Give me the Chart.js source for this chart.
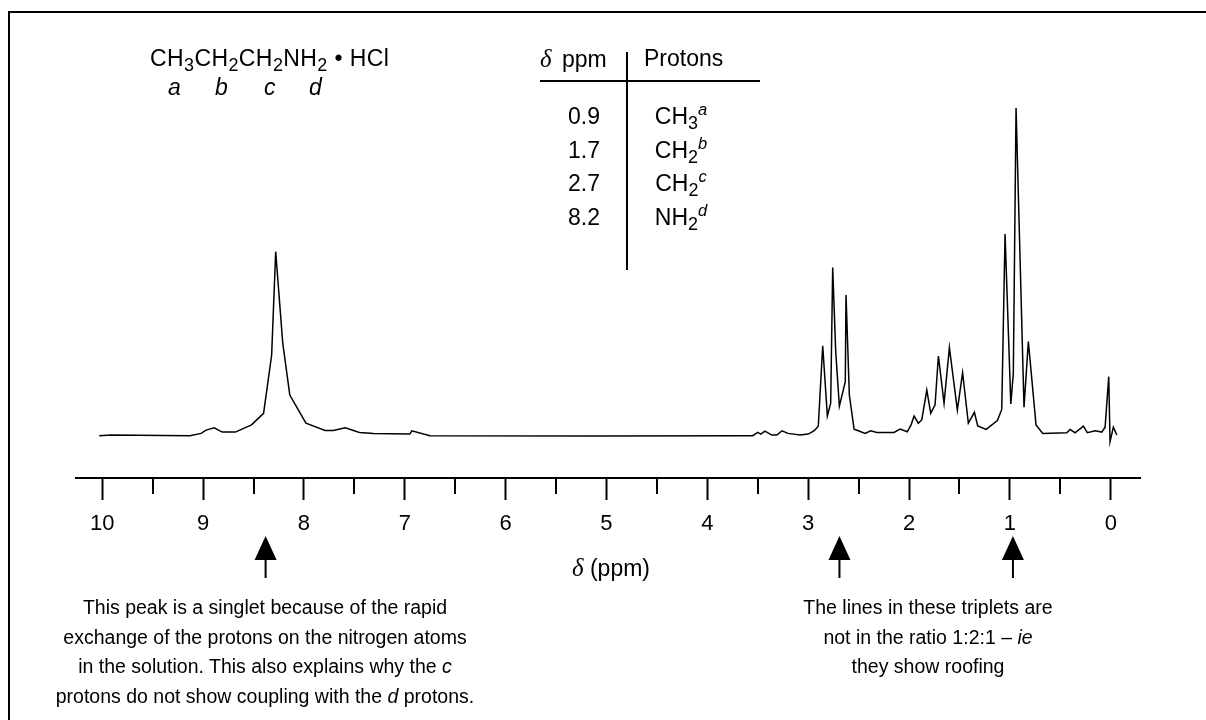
<!DOCTYPE html>
<html>
<head>
<meta charset="utf-8">
<script src="https://cdn.jsdelivr.net/npm/chart.js@4.4.1/dist/chart.umd.min.js"></script>
<style>
  body { margin: 0; background: #fff; }
  #wrap { position: relative; width: 1206px; height: 720px; overflow: hidden; font-family: "Liberation Sans", Arial, sans-serif; color: #000; }
  #chart { position: absolute; left: 0; top: 0; }
  .frame { position: absolute; left: 8px; top: 11px; width: 1300px; height: 800px; border-top: 2px solid #000; border-left: 2px solid #000; }
  .t { position: absolute; white-space: nowrap; font-size: 23px; line-height: 23px; }
  .t sub { font-size: 0.78em; vertical-align: -0.3em; line-height: 0; }
  .t sup { font-size: 0.72em; vertical-align: 0.55em; line-height: 0; font-style: italic; }
  .note { position: absolute; width: 600px; text-align: center; font-size: 19.5px; line-height: 29.7px; white-space: nowrap; }
  .hl { position: absolute; background: #000; }
  .greek { font-family: "Liberation Serif", "DejaVu Serif", serif; font-style: italic; font-size: 1.08em; }
</style>
</head>
<body>
<div id="wrap">
  <canvas id="chart" width="1206" height="720"></canvas>
  <div class="frame"></div>

  <div class="t" style="left:150px; top:47px; letter-spacing:0.4px;">CH<sub>3</sub>CH<sub>2</sub>CH<sub>2</sub>NH<sub>2</sub> &bull; HCl</div>
  <div class="t" style="left:168px; top:76px; font-style:italic;">a</div>
  <div class="t" style="left:215px; top:76px; font-style:italic;">b</div>
  <div class="t" style="left:264px; top:76px; font-style:italic;">c</div>
  <div class="t" style="left:309px; top:76px; font-style:italic;">d</div>

  <div class="t" style="left:540px; top:47px; word-spacing:4px;"><span class="greek">δ</span> ppm</div>
  <div class="t" style="left:644px; top:47px;">Protons</div>
  <div class="hl" style="left:540px; top:80px; width:220px; height:1.5px;"></div>
  <div class="hl" style="left:626px; top:52px; width:1.5px; height:218px;"></div>
  <div id="rows"></div>

  <div class="t" style="left:572px; top:556px;"><span class="greek">δ</span> (ppm)</div>

  <div class="note" style="left:-35px; top:593px;">This peak is a singlet because of the rapid<br>exchange of the protons on the nitrogen atoms<br>in the solution. This also explains why the <i>c</i><br>protons do not show coupling with the <i>d</i> protons.</div>
  <div class="note" style="left:628px; top:593px;">The lines in these triplets are<br>not in the ratio 1:2:1 &ndash; <i>ie</i><br>they show roofing</div>
</div>
<script>
// chemical shift (ppm) and relative intensity
const shifts = [10.03, 9.91, 9.13, 9.02, 8.97, 8.89, 8.81, 8.68, 8.52, 8.40, 8.32, 8.28, 8.21, 8.14, 7.98, 7.79,
  7.71, 7.59, 7.45, 7.31, 6.95, 6.93, 6.75, 5.07, 3.68, 3.55, 3.50, 3.47, 3.43, 3.36, 3.31, 3.26, 3.20, 3.08,
  3.00, 2.94, 2.90, 2.856, 2.81, 2.777, 2.757, 2.727, 2.691, 2.632, 2.625, 2.592, 2.545, 2.503, 2.436, 2.38,
  2.32, 2.149, 2.089, 2.017, 1.98, 1.95, 1.908, 1.874, 1.824, 1.785, 1.742, 1.709, 1.653, 1.60, 1.521, 1.469,
  1.412, 1.352, 1.319, 1.236, 1.124, 1.081, 1.048, 0.991, 0.966, 0.939, 0.86, 0.817, 0.741, 0.674, 0.436,
  0.403, 0.354, 0.271, 0.232, 0.155, 0.089, 0.056, 0.020, 0.007, -0.026, -0.060];
const intensity = [0.1, 0.3, 0.1, 0.8, 1.8, 2.5, 1.2, 1.2, 3.4, 6.9, 24.7, 56.2, 28.3, 12.5, 3.9, 1.7,
  1.7, 2.5, 1.1, 0.8, 0.6, 1.6, 0.1, 0, 0.1, 0.1, 1.1, 0.6, 1.5, 0.3, 0.3, 1.6, 0.8, 0.3,
  0.6, 1.6, 3.0, 27.5, 6.1, 10.0, 51.4, 25.7, 9.1, 16.6, 43.0, 12.5, 2.1, 1.6, 0.8, 1.6,
  1.1, 1.1, 2.1, 1.3, 3.4, 6.1, 3.9, 4.9, 14.0, 6.9, 9.5, 24.4, 10.0, 27.0, 7.9, 19.3,
  3.9, 7.2, 3.1, 2.0, 4.7, 8.1, 61.6, 9.8, 19.1, 100, 8.8, 28.8, 3.4, 0.8, 1.0,
  2.0, 1.0, 3.0, 1.0, 1.6, 1.2, 2.7, 18.1, -1.7, 2.7, 0.3];

const majorTicks = [0, 1, 2, 3, 4, 5, 6, 7, 8, 9, 10];
const minorTicks = [0.5, 1.5, 2.5, 3.5, 4.5, 5.5, 6.5, 7.5, 8.5, 9.5];
const arrowShifts = [8.38, 2.69, 0.97];

const tableShift = ['0.9', '1.7', '2.7', '8.2'];
const tableGroup = ['CH<sub>3</sub><sup>a</sup>', 'CH<sub>2</sub><sup>b</sup>', 'CH<sub>2</sub><sup>c</sup>', 'NH<sub>2</sub><sup>d</sup>'];

// table rows
const rows = document.getElementById('rows');
tableShift.forEach((s, i) => {
  const top = 105 + i * 33.6;
  rows.insertAdjacentHTML('beforeend',
    '<div class="t" style="left:540px;width:60px;text-align:right;top:' + top + 'px">' + s + '</div>' +
    '<div class="t" style="left:631px;width:100px;text-align:center;top:' + top + 'px">' + tableGroup[i] + '</div>');
});

const extras = {
  id: 'extras',
  afterDraw(chart) {
    const ctx = chart.ctx;
    const x = chart.scales.x;
    const top = x.top;
    ctx.save();
    ctx.strokeStyle = '#000';
    ctx.fillStyle = '#000';
    ctx.lineWidth = 2;
    minorTicks.forEach(v => {
      const px = Math.round(x.getPixelForValue(v));
      ctx.beginPath();
      ctx.moveTo(px, top);
      ctx.lineTo(px, top + 16);
      ctx.stroke();
    });
    arrowShifts.forEach(v => {
      const px = x.getPixelForValue(v);
      ctx.beginPath();
      ctx.moveTo(px, top + 58);
      ctx.lineTo(px - 11, top + 82);
      ctx.lineTo(px + 11, top + 82);
      ctx.closePath();
      ctx.fill();
      ctx.fillRect(px - 1, top + 82, 2, 18);
    });
    ctx.restore();
  }
};

new Chart(document.getElementById('chart'), {
  type: 'line',
  data: {
    datasets: [{
      data: shifts.map((s, i) => ({ x: s, y: intensity[i] })),
      borderColor: '#000',
      borderWidth: 1.5,
      pointRadius: 0,
      tension: 0,
      fill: false
    }]
  },
  options: {
    responsive: false,
    animation: false,
    devicePixelRatio: 1,
    layout: { padding: { left: 76, right: 66, top: 98, bottom: 141 } },
    plugins: { legend: { display: false }, tooltip: { enabled: false } },
    scales: {
      x: {
        type: 'linear',
        reverse: true,
        min: -0.29,
        max: 10.26,
        afterBuildTicks: scale => { scale.ticks = majorTicks.map(v => ({ value: v })); },
        afterFit: scale => { scale.height = 101; },
        grid: { display: true, drawOnChartArea: false, drawTicks: true, tickLength: 22, tickWidth: 2, tickColor: '#000' },
        border: { display: true, color: '#000', width: 2 },
        ticks: {
          color: '#000',
          padding: 11,
          maxRotation: 0,
          autoSkip: false,
          font: { family: '"Liberation Sans", Arial, sans-serif', size: 22 },
          callback: v => String(v)
        }
      },
      y: {
        display: false,
        min: -12.8,
        max: 103.05
      }
    }
  },
  plugins: [extras]
});
</script>
</body>
</html>
